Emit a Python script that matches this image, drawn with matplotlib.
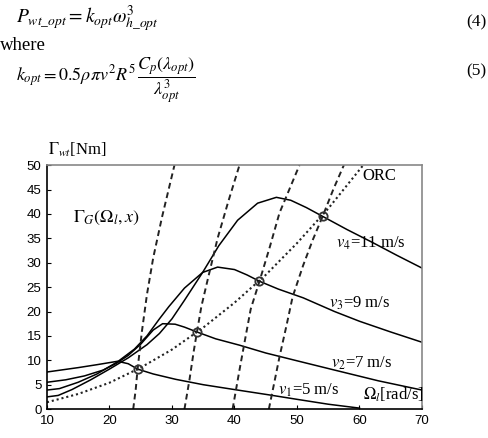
import matplotlib
matplotlib.use("Agg")
import matplotlib.pyplot as plt

plt.rcParams['mathtext.fontset'] = 'stix'
plt.rcParams['font.family'] = ['Liberation Serif', 'DejaVu Serif']

# -------------------------
# Data
# -------------------------
omega_v1 = [10, 15, 18, 21.3, 23, 24.5, 27, 30.6, 35, 40, 45.6, 50, 55, 60]
torque_v1 = [7.6, 8.5, 9.1, 9.8, 9.3, 8.2, 7.2, 6.1, 5.0, 4.0, 2.9, 2.0, 1.0, 0.2]

omega_v2 = [10, 13, 16, 19, 21, 23, 25, 27, 28.5, 30.5, 32, 34, 37, 40.8, 45, 50, 56, 63, 70]
torque_v2 = [5.5, 6.0, 6.8, 8.0, 9.3, 11.0, 13.3, 16.2, 17.5, 17.4, 16.8, 15.8, 14.4, 13.1, 11.5, 9.9, 8.0, 5.8, 3.9]

omega_v3 = [10, 12, 15, 18, 21.3, 24, 26, 28, 29.5, 32, 34.9, 37.3, 40, 42, 44, 47, 51, 56, 60, 65, 70]
torque_v3 = [3.9, 4.2, 5.5, 7.2, 9.7, 12.3, 15.0, 18.5, 21.0, 24.8, 28.0, 29.1, 28.6, 27.5, 26.2, 24.6, 22.8, 20.0, 18.0, 15.8, 13.7]

omega_v4 = [10, 11.8, 14, 17, 20, 23, 26, 28, 30, 32, 34.9, 37.5, 40.5, 43.7, 46.7, 49, 51.5, 54.1, 58, 62, 66, 70]
torque_v4 = [2.5, 2.8, 4.0, 6.0, 8.2, 10.5, 13.2, 15.5, 18.5, 22.3, 28.0, 33.5, 38.7, 42.2, 43.4, 42.8, 41.3, 39.5, 36.8, 34.2, 31.5, 28.9]

orc_omega = [10, 15, 20, 25, 30, 35, 40, 45, 50, 55, 60.6]
orc_torque = [1.4, 3.1, 5.4, 8.5, 12.2, 16.7, 21.8, 27.5, 34.0, 41.1, 50.0]

op_omega = [24.5, 34, 44, 54.1]
op_torque = [8.2, 15.8, 26.2, 39.5]

# generator torque lines Gamma_G(Omega_l, x)
gen1_omega = [23.8, 24.2, 24.5, 25.2, 26.0, 27.0, 28.4, 30.4]
gen1_torque = [0, 4, 8.2, 16, 23.5, 31, 39.3, 50]
gen2_omega = [32.0, 32.8, 33.5, 34.0, 34.7, 35.8, 37.3, 39.0, 40.8]
gen2_torque = [0, 6, 12, 15.8, 21, 27, 35, 42.5, 50]
gen3_omega = [39.7, 40.8, 41.8, 42.6, 44.0, 45.6, 47.2, 50.4]
gen3_torque = [0, 8, 15, 20.5, 26.2, 33, 40.2, 50]
gen4_omega = [45.5, 46.3, 47.2, 48.3, 49.3, 51.0, 52.5, 54.1, 55.8, 57.5]
gen4_torque = [0, 5, 10.7, 17, 23, 29.5, 34.6, 39.5, 45, 50]

x_ticks = [10, 20, 30, 40, 50, 60, 70]
y_ticks = [0, 5, 10, 15, 20, 25, 30, 35, 40, 45, 50]

fig = plt.figure(figsize=(4.89, 4.38), dpi=100)

# equations above the chart
fig.text(0.033, 0.955, r'$P_{wt\_opt} = k_{opt}\omega_{h\_opt}^{3}$', fontsize=14, va='center')
fig.text(0.994, 0.950, '(4)', fontsize=12.5, ha='right', va='center')
fig.text(0.0, 0.896, 'where', fontsize=13.5, va='center')
fig.text(0.033, 0.818,
         r'$k_{opt} = 0.5\rho\pi v^{2}R^{5}\,\dfrac{C_p\left(\lambda_{opt}\right)}{\lambda_{opt}^{3}}$',
         fontsize=13, va='center')
fig.text(0.994, 0.836, '(5)', fontsize=12.5, ha='right', va='center')

ax = fig.add_axes([0.096, 0.066, 0.767, 0.557])

for om, tq in [(omega_v1, torque_v1), (omega_v2, torque_v2),
               (omega_v3, torque_v3), (omega_v4, torque_v4)]:
    ax.plot(om, tq, color='black', lw=1.1)

for om, tq in [(gen1_omega, gen1_torque), (gen2_omega, gen2_torque),
               (gen3_omega, gen3_torque), (gen4_omega, gen4_torque)]:
    ax.plot(om, tq, color='#222222', lw=1.4, linestyle=(0, (3, 2)))

ax.plot(orc_omega, orc_torque, color='#222222', lw=1.5, linestyle=(0, (1, 1.4)))
ax.plot(op_omega, op_torque, 'o', ms=6, mfc='none', mec='#333333', mew=1.3)

ax.set_xlim(10, 70)
ax.set_ylim(0, 50)
ax.set_xticks(x_ticks)
ax.set_yticks(y_ticks)
ax.tick_params(direction='in', length=3, width=0.8, pad=4,
               labelsize=9.5, labelfontfamily='Liberation Sans')

ax.spines['left'].set_color('black')
ax.spines['bottom'].set_color('black')
ax.spines['top'].set_color('#888888')
ax.spines['right'].set_color('#888888')
for s in ax.spines.values():
    s.set_linewidth(1.2)

# annotations
ax.text(60.4, 47.7, 'ORC', fontsize=12, va='center')
ax.text(56.2, 34.0, r'$v_4$=11 m/s', fontsize=12, va='center')
ax.text(55.2, 21.7, r'$v_3$=9 m/s', fontsize=12, va='center')
ax.text(55.5, 9.4, r'$v_2$=7 m/s', fontsize=12, va='center')
ax.text(46.9, 3.9, r'$v_1$=5 m/s', fontsize=12, va='center')
ax.text(60.5, 2.9, r'$\Omega_l$[rad/s]', fontsize=12, va='center', clip_on=False)
ax.text(14.2, 39.2, r'$\Gamma_G(\Omega_l,x)$', fontsize=13, va='center')
fig.text(0.098, 0.658, r'$\Gamma_{wt}$[Nm]', fontsize=12, va='center')

fig.savefig('out.png', dpi=100)
